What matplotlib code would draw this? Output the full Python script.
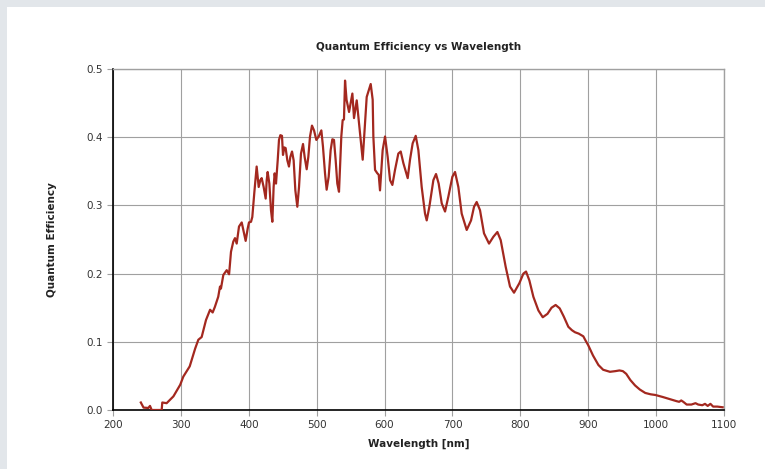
import matplotlib
matplotlib.use("Agg")
import matplotlib.pyplot as plt
from matplotlib.patches import Rectangle

# wavelength [nm] and quantum efficiency
wavelength = [
    241, 245, 252, 254.5, 257, 271.7, 272.6, 279, 289, 299, 303.6, 313, 321,
    325.7, 330.6, 337, 343, 346.8, 350, 355, 357.6, 359, 362.5, 367.5, 371,
    373.8, 377.2, 379.7, 382.2, 385.6, 389.6, 392, 395.4, 398.4, 400.3, 403.3,
    405.2, 408.1, 411.6, 414.6, 417.0, 419.0, 421.9, 424.9, 426.4, 427.8,
    430.3, 432.7, 434.7, 436.6, 438.1, 440.1, 442.6, 444.5, 446.5, 448.9,
    450.4, 452.4, 454.3, 456.8, 459.2, 461.2, 463.7, 466.1, 468.6, 471.5,
    474.0, 476.9, 479.9, 482.3, 485.3, 487.7, 490.2, 493.1, 496.1, 499.5,
    503.0, 506.9, 509.3, 512.3, 514.7, 517.7, 520.6, 523.1, 525.5, 528.0,
    530.4, 532.9, 534.9, 536.3, 538.3, 540.2, 541.8, 544.0, 547.7, 552.6,
    555.0, 559.0, 563.9, 567.8, 573.7, 579.6, 582.5, 583.5, 586.0, 589.4,
    591.4, 593.3, 597.2, 600.7, 604.6, 608.1, 611.5, 615.4, 620.3, 623.8,
    627.7, 634.1, 637.5, 641.4, 645.9, 649.8, 654.7, 659.6, 662.1, 666.0,
    671.9, 675.8, 679.7, 684.2, 689.1, 694.0, 699.9, 703.8, 708.7, 713.6,
    721.0, 727.4, 731.8, 735.7, 740.6, 746.5, 753.9, 760.3, 766.2, 771.1,
    778.4, 784.8, 790.7, 798.6, 804.5, 808.4, 813.3, 819.2, 826.6, 833, 840,
    846, 852, 858, 864, 870.7, 876, 880.5, 886, 892.8, 896, 900, 907, 915,
    922, 932, 940, 946, 951, 956, 962, 969, 976, 984, 992, 999, 1010, 1020,
    1030, 1034, 1037, 1040, 1045, 1052, 1058, 1062, 1068, 1072, 1076, 1080,
    1084, 1090, 1098,
]
qe = [
    0.011, 0.0035, 0.003, 0.006, 0.0, 0.0, 0.011, 0.010, 0.020, 0.037, 0.049,
    0.064, 0.090, 0.103, 0.107, 0.132, 0.147, 0.143, 0.151, 0.166, 0.181,
    0.178, 0.198, 0.205, 0.199, 0.232, 0.247, 0.252, 0.244, 0.269, 0.275,
    0.264, 0.248, 0.266, 0.275, 0.276, 0.283, 0.318, 0.357, 0.327, 0.337,
    0.340, 0.327, 0.310, 0.337, 0.349, 0.332, 0.293, 0.276, 0.327, 0.347,
    0.332, 0.366, 0.396, 0.403, 0.402, 0.374, 0.385, 0.384, 0.366, 0.357,
    0.371, 0.379, 0.366, 0.322, 0.298, 0.327, 0.376, 0.390, 0.371, 0.353,
    0.371, 0.401, 0.417, 0.410, 0.396, 0.401, 0.410, 0.386, 0.347, 0.323,
    0.342, 0.381, 0.397, 0.396, 0.366, 0.332, 0.320, 0.366, 0.401, 0.425,
    0.426, 0.483, 0.455, 0.437, 0.464, 0.428, 0.454, 0.406, 0.367, 0.459,
    0.478, 0.455, 0.401, 0.352, 0.347, 0.345, 0.322, 0.381, 0.401, 0.371,
    0.337, 0.330, 0.352, 0.376, 0.379, 0.362, 0.340, 0.367, 0.391, 0.402,
    0.381, 0.327, 0.288, 0.278, 0.298, 0.337, 0.346, 0.332, 0.303, 0.291,
    0.313, 0.342, 0.349, 0.327, 0.288, 0.264, 0.278, 0.298, 0.305, 0.293,
    0.259, 0.244, 0.254, 0.261, 0.249, 0.210, 0.181, 0.172, 0.186, 0.200,
    0.203, 0.190, 0.166, 0.146, 0.136, 0.141, 0.150, 0.154, 0.149, 0.137,
    0.122, 0.117, 0.114, 0.112, 0.108, 0.102, 0.095, 0.080, 0.066, 0.059,
    0.056, 0.057, 0.058, 0.057, 0.053, 0.044, 0.036, 0.030, 0.025, 0.023,
    0.022, 0.019, 0.016, 0.013, 0.012, 0.014, 0.012, 0.008, 0.008, 0.010,
    0.008, 0.007, 0.009, 0.006, 0.009, 0.005, 0.005, 0.004,
]
x_ticks = [200, 300, 400, 500, 600, 700, 800, 900, 1000, 1100]
y_ticks = [0.0, 0.1, 0.2, 0.3, 0.4, 0.5]

fig = plt.figure(figsize=(7.65, 4.69), dpi=100, facecolor="#e2e6ea")
# white panel over the textured page background
fig.patches.append(Rectangle((7 / 765, 0), 1, (469 - 7) / 469,
                             transform=fig.transFigure, facecolor="white",
                             edgecolor="none", zorder=-10))
ax = fig.add_axes([113 / 765, 59 / 469, 611 / 765, 341 / 469])
ax.set_facecolor("white")

ax.plot(wavelength, qe, color="#a3281f", lw=1.6, zorder=3,
        solid_joinstyle="round")

ax.set_xlim(200, 1100)
ax.set_ylim(0, 0.5)
ax.set_xticks(x_ticks)
ax.set_yticks(y_ticks)
ax.set_yticklabels([f"{v:.1f}" for v in y_ticks])
ax.grid(color="#a0a0a0", lw=0.8)
ax.tick_params(labelsize=7.5, colors="#333333", length=4, color="#a0a0a0")

for side in ("top", "right"):
    ax.spines[side].set_color("#a0a0a0")
    ax.spines[side].set_linewidth(1.0)
for side in ("left", "bottom"):
    ax.spines[side].set_color("black")
    ax.spines[side].set_linewidth(1.2)

ax.set_title("Quantum Efficiency vs Wavelength", fontsize=7.5,
             fontweight="bold", color="#222222", pad=14)
ax.set_xlabel("Wavelength [nm]", fontsize=7.5, fontweight="bold",
              color="#222222", labelpad=6)
ax.set_ylabel("Quantum Efficiency", fontsize=7.5, fontweight="bold",
              color="#222222", labelpad=21)

fig.savefig("out.png", dpi=100, facecolor=fig.get_facecolor())
